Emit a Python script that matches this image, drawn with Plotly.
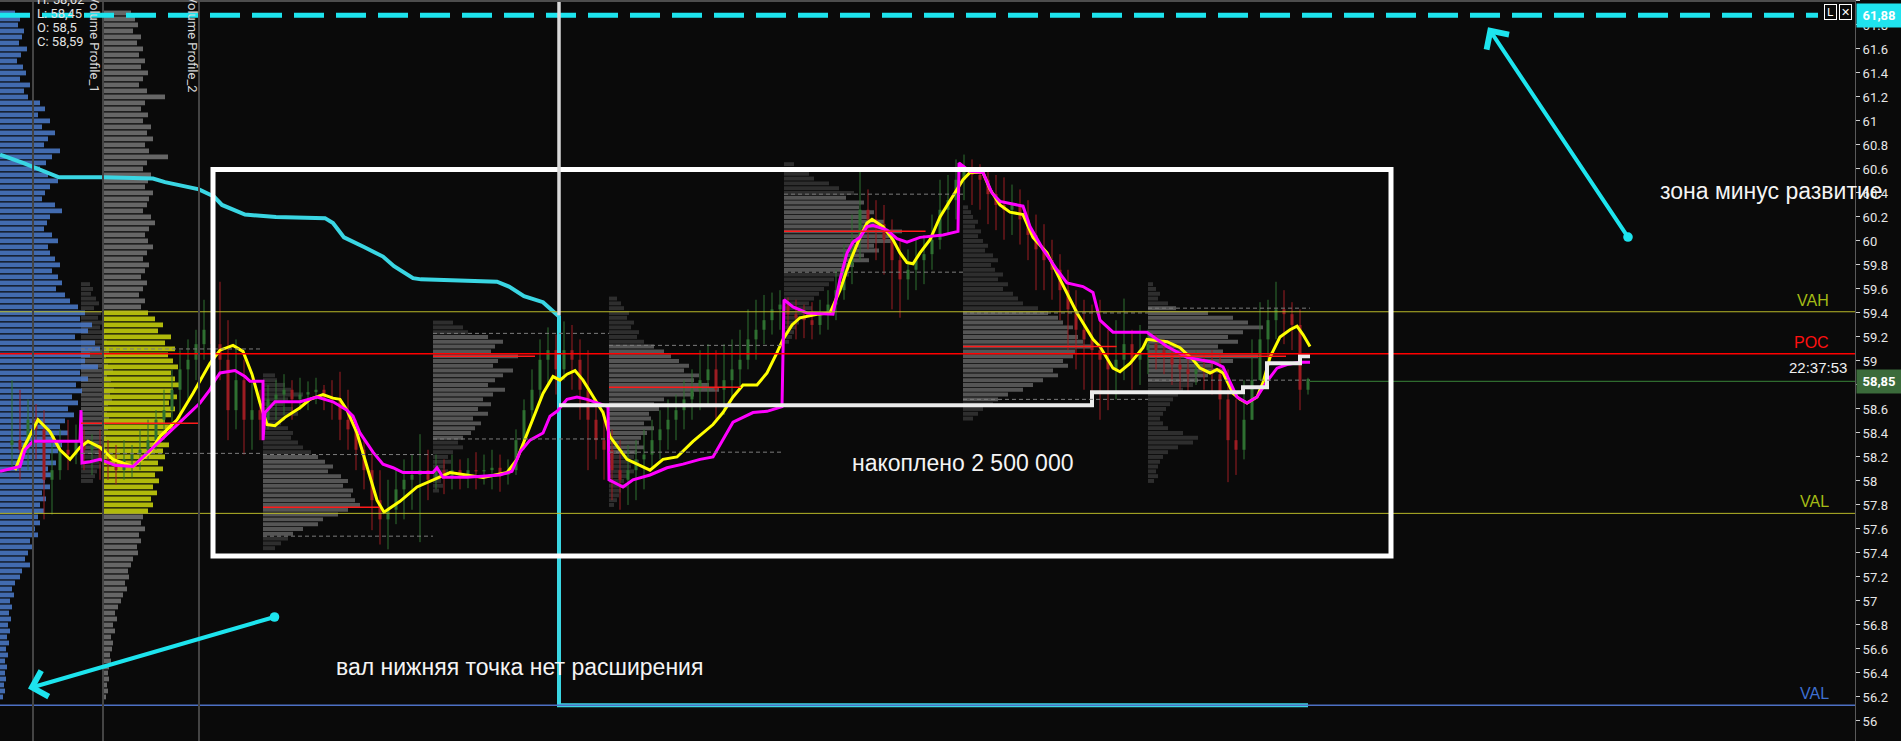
import plotly.graph_objects as go

# ---------------- axis extents ----------------
T_RIGHT = 1855
P_BOTTOM, P_TOP = 55.833, 62.008

# ---------------- candles (time, high, low, close) ----------------
candle_t = list(range(12, 1309, 8))
cand_high = [58.84, 58.76, 58.68, 58.64, 58.59, 58.34, 58.43, 58.51, 58.47, 58.43,
             58.39, 58.43, 58.34, 58.30, 58.34, 58.30, 58.43, 58.51, 58.59, 58.76,
             58.93, 59.09, 59.18, 59.26, 59.51, 59.34, 59.66, 59.34, 59.18, 59.01,
             58.84, 58.76, 58.80, 58.84, 58.89, 58.84, 58.86, 58.83, 58.86, 58.80,
             58.84, 58.91, 58.76, 58.51, 58.34, 58.26, 58.09, 58.01, 58.09, 58.18,
             58.22, 58.39, 58.26, 58.22, 58.18, 58.22, 58.18, 58.19, 58.24, 58.22,
             58.26, 58.22, 58.18, 58.43, 58.68, 58.93, 59.18, 59.28, 59.22, 59.33,
             59.30, 59.18, 59.09, 58.68, 58.59, 58.43, 58.34, 58.30, 58.34, 58.43,
             58.51, 58.59, 58.68, 58.72, 58.84, 58.93, 59.09, 59.14, 59.09, 59.14,
             59.18, 59.26, 59.43, 59.51, 59.55, 59.57, 59.59, 59.53, 59.51, 59.47,
             59.49, 59.51, 59.59, 59.76, 59.97, 60.22, 60.59, 60.43, 60.34, 60.30,
             60.18, 60.01, 59.93, 60.01, 60.05, 60.22, 60.51, 60.55, 60.68, 60.72,
             60.68, 60.64, 60.59, 60.55, 60.53, 60.47, 60.43, 60.34, 60.22, 60.14,
             60.01, 59.89, 59.76, 59.59, 59.51, 59.47, 59.51, 59.26, 59.34, 59.52,
             59.26, 59.30, 59.26, 59.22, 59.18, 59.14, 59.09, 59.05, 59.09, 59.05,
             59.09, 59.05, 58.93, 58.68, 58.84, 59.18, 59.49, 59.51, 59.66, 59.59,
             59.49, 59.43, 58.86]
cand_low = [58.09, 58.01, 58.09, 58.18, 57.68, 57.72, 58.01, 58.09, 58.14, 58.09,
            58.05, 58.01, 58.01, 57.97, 58.01, 58.03, 58.09, 58.18, 58.26, 58.34,
            58.43, 58.51, 58.68, 58.84, 59.01, 58.93, 58.84, 58.34, 58.43, 58.22,
            58.26, 58.34, 58.43, 58.51, 58.55, 58.51, 58.59, 58.59, 58.64, 58.59,
            58.51, 58.34, 58.26, 58.09, 57.93, 57.59, 57.47, 57.43, 57.64, 57.68,
            57.76, 57.49, 57.84, 57.93, 57.89, 57.93, 57.93, 57.94, 57.93, 57.97,
            57.93, 57.91, 57.97, 58.05, 58.26, 58.51, 58.68, 58.80, 58.72, 58.84,
            58.76, 58.51, 58.09, 58.18, 58.01, 57.84, 57.76, 57.80, 57.84, 57.93,
            58.09, 58.18, 58.26, 58.34, 58.43, 58.51, 58.59, 58.64, 58.51, 58.55,
            58.68, 58.76, 58.93, 59.01, 59.14, 59.22, 59.26, 59.22, 59.18, 59.19,
            59.18, 59.22, 59.26, 59.34, 59.51, 59.64, 59.84, 59.93, 59.84, 59.72,
            59.43, 59.36, 59.51, 59.59, 59.64, 59.76, 59.93, 60.05, 60.18, 60.34,
            60.30, 60.26, 60.14, 60.09, 60.01, 60.05, 59.97, 59.84, 59.59, 59.59,
            59.51, 59.34, 59.09, 58.93, 58.76, 58.68, 58.51, 58.59, 58.68, 58.84,
            58.76, 58.80, 58.89, 58.93, 58.89, 58.80, 58.76, 58.74, 58.80, 58.76,
            58.72, 58.51, 57.99, 58.05, 58.18, 58.51, 58.84, 59.01, 59.18, 59.14,
            59.09, 58.59, 58.72]
cand_close = [58.34, 58.26, 58.51, 58.43, 58.01, 58.09, 58.26, 58.22, 58.34, 58.26,
              58.30, 58.18, 58.14, 58.09, 58.18, 58.22, 58.26, 58.34, 58.51, 58.59,
              58.76, 58.93, 59.01, 59.14, 59.26, 59.14, 59.01, 58.59, 58.84, 58.51,
              58.59, 58.51, 58.68, 58.72, 58.76, 58.68, 58.72, 58.74, 58.76, 58.69,
              58.68, 58.51, 58.43, 58.26, 58.09, 57.84, 57.68, 57.76, 57.93, 58.01,
              58.05, 58.09, 58.01, 58.09, 58.03, 58.09, 58.03, 58.09, 58.08, 58.09,
              58.11, 58.05, 58.09, 58.34, 58.59, 58.76, 59.01, 59.09, 58.93, 59.09,
              59.01, 58.76, 58.51, 58.34, 58.26, 58.09, 58.01, 58.09, 58.18, 58.22,
              58.34, 58.43, 58.51, 58.59, 58.68, 58.76, 58.84, 58.93, 58.76, 58.84,
              58.93, 59.01, 59.18, 59.26, 59.34, 59.43, 59.47, 59.39, 59.36, 59.34,
              59.30, 59.39, 59.47, 59.59, 59.80, 60.01, 60.26, 60.18, 60.14, 60.01,
              59.84, 59.68, 59.76, 59.84, 59.89, 60.01, 60.26, 60.34, 60.51, 60.58,
              60.55, 60.51, 60.39, 60.30, 60.26, 60.30, 60.18, 60.05, 59.93, 59.84,
              59.76, 59.59, 59.43, 59.26, 59.18, 59.09, 59.01, 58.93, 59.01, 59.14,
              59.01, 59.09, 59.14, 59.09, 59.05, 58.97, 58.93, 58.89, 58.93, 58.91,
              58.89, 58.68, 58.34, 58.26, 58.51, 58.84, 59.18, 59.34, 59.43, 59.39,
              59.30, 58.76, 58.85]
cand_first_open = 58.30

# ---------------- indicator lines ----------------
yellow_t = [15, 25, 38, 50, 60, 70, 80, 88, 100, 113, 133, 150, 160, 177, 193, 210, 220, 233, 243, 252,
            260, 267, 275, 285, 300, 310, 323, 333, 340, 347, 357, 367, 377, 384, 400, 417, 433, 450, 483, 507,
            517, 530, 543, 553, 560, 567, 575, 583, 593, 603, 610, 627, 650, 663, 677, 693, 713, 723, 733, 743,
            757, 767, 777, 783, 792, 800, 817, 830, 840, 850, 860, 867, 872, 883, 893, 900, 907, 913, 920, 930,
            940, 953, 963, 970, 983, 990, 1000, 1010, 1023, 1033, 1047, 1060, 1077, 1093, 1100, 1113, 1120, 1130,
            1143, 1147, 1167, 1180, 1193, 1200, 1210, 1217, 1223, 1233, 1240, 1247, 1257, 1263, 1270, 1280, 1290,
            1297, 1303, 1310]
yellow_p = [58.09, 58.30, 58.51, 58.41, 58.26, 58.18, 58.28, 58.33, 58.28, 58.18, 58.12, 58.24, 58.37, 58.51,
            58.73, 58.98, 59.09, 59.13, 59.08, 58.89, 58.65, 58.47, 58.46, 58.53, 58.61, 58.68, 58.72, 58.69,
            58.68, 58.59, 58.40, 58.12, 57.84, 57.74, 57.83, 57.95, 58.01, 58.07, 58.03, 58.07, 58.18, 58.45,
            58.73, 58.87, 58.84, 58.89, 58.92, 58.84, 58.70, 58.57, 58.37, 58.18, 58.09, 58.18, 58.20, 58.33,
            58.47, 58.57, 58.70, 58.80, 58.80, 58.90, 59.07, 59.18, 59.30, 59.36, 59.39, 59.40, 59.59, 59.83,
            60.03, 60.15, 60.18, 60.12, 60.01, 59.90, 59.82, 59.81, 59.90, 60.01, 60.20, 60.37, 60.51, 60.57,
            60.57, 60.43, 60.30, 60.24, 60.22, 60.03, 59.90, 59.68, 59.40, 59.18, 59.12, 58.94, 58.91, 58.98,
            59.11, 59.18, 59.16, 59.11, 59.01, 58.94, 58.90, 58.93, 58.90, 58.73, 58.68, 58.65, 58.70, 58.82,
            59.03, 59.20, 59.26, 59.29, 59.22, 59.12]

magenta_t = [0, 20, 25, 33, 80, 81, 82, 90, 100, 115, 133, 160, 180, 200, 210, 215, 220, 235, 245, 250,
             263, 263, 265, 275, 300, 317, 333, 347, 353, 360, 373, 383, 393, 403, 433, 437, 443, 467, 500, 512,
             520, 530, 543, 550, 557, 567, 577, 587, 597, 608, 609, 623, 633, 650, 667, 683, 700, 713, 733, 753,
             767, 782, 784, 793, 807, 833, 840, 847, 853, 860, 867, 873, 887, 897, 907, 920, 943, 958, 959, 970,
             983, 992, 1000, 1017, 1023, 1030, 1043, 1057, 1067, 1083, 1093, 1100, 1113, 1147, 1167, 1187, 1213,
             1223, 1230, 1237, 1247, 1257, 1267, 1277, 1287, 1300, 1310]
magenta_p = [58.08, 58.12, 58.26, 58.33, 58.33, 58.59, 58.15, 58.16, 58.18, 58.13, 58.12, 58.33, 58.49, 58.65,
             58.76, 58.84, 58.90, 58.92, 58.87, 58.83, 58.83, 58.34, 58.57, 58.66, 58.66, 58.70, 58.66, 58.59,
             58.54, 58.40, 58.24, 58.14, 58.11, 58.07, 58.07, 58.11, 58.03, 58.03, 58.05, 58.08, 58.24, 58.34,
             58.40, 58.54, 58.58, 58.68, 58.70, 58.68, 58.65, 58.62, 58.01, 57.95, 58.01, 58.05, 58.11, 58.14,
             58.18, 58.20, 58.49, 58.57, 58.58, 58.62, 59.51, 59.45, 59.40, 59.39, 59.68, 59.90, 59.99, 60.03,
             60.12, 60.13, 60.09, 60.02, 59.99, 60.03, 60.05, 60.08, 60.65, 60.58, 60.57, 60.40, 60.33, 60.30,
             60.29, 60.12, 59.93, 59.76, 59.65, 59.62, 59.57, 59.34, 59.24, 59.24, 59.12, 59.03, 58.99, 58.95,
             58.82, 58.70, 58.65, 58.70, 58.83, 58.94, 58.97, 58.99, 58.99]

cyan_t = [0, 23, 59, 103, 153, 165, 199, 214, 222, 245, 276, 325, 333, 344, 364, 383, 394, 413, 421, 497,
          509, 524, 543, 555, 559, 559, 1308]
cyan_p = [60.72, 60.65, 60.53, 60.53, 60.52, 60.49, 60.43, 60.37, 60.30, 60.22, 60.20, 60.19, 60.15, 60.03,
          59.95, 59.87, 59.79, 59.69, 59.68, 59.66, 59.62, 59.54, 59.49, 59.40, 59.37, 56.13, 56.13]

white_t = [559, 1092, 1243, 1267, 1300, 1310]
white_p = [58.63, 58.74, 58.78, 58.98, 59.04, 59.04]

# ---------------- global levels ----------------
level_vah = 59.41
level_poc = 59.06
level_val = 57.73
level_val_blue = 56.13
last_price = 58.83
last_price_t = 1310
alert_price = 61.88

# ---------------- composite profiles (step 0.05 from 61.90) ----------------
big_top, big_step = 61.90, 0.05
blue_t0 = 0
blue_vol = [15, 20, 18, 24, 22, 19, 27, 21, 17, 23, 26, 20, 30, 24, 28,
            40, 45, 38, 50, 42, 55, 48, 44, 60, 52, 46, 40, 48, 58, 50, 45, 42, 55, 62, 50, 47, 44, 52, 58, 48,
            50, 55, 60, 52, 58, 62, 56, 65,
            70, 78, 85, 80, 92, 88, 75, 95, 100, 90, 85, 98, 80, 88, 76, 82, 72, 78, 68, 74,
            65, 60, 68, 55, 62, 58, 50, 56, 48, 52, 45, 50, 42, 46, 40, 44, 38,
            40, 35, 38, 30, 33, 28, 25, 30, 22, 20,
            15, 12, 14, 10, 12, 9, 11, 8, 10, 7, 9, 6, 8, 5, 7, 5, 6, 4, 5, 3]
vp1_t0 = 103
vp1_vol = [28, 32, 35, 30, 38, 34, 40, 36, 42, 38, 45, 40, 36, 44, 62,
           42, 38, 45, 40, 48, 44, 50, 42, 46, 65, 44, 40, 48, 45, 42, 50, 46, 44, 40, 48, 52, 46, 42, 45, 50,
           44, 40, 46, 42, 38, 44, 40, 36, 42, 38,
           45, 52, 60, 55, 68, 62, 72, 65, 70, 75, 68, 72, 78, 70, 74, 66, 72, 68, 62, 70, 64, 58, 66, 60, 62,
           55, 60, 52, 56, 50, 54, 48, 50, 45,
           40, 38, 42, 36, 38, 34, 35, 30,
           28, 25, 26, 22, 24, 20, 18,
           15, 12, 14, 10, 12, 8, 10, 9, 7, 8, 6, 5, 6, 4, 5, 3]

# ---------------- session profiles (step 0.04) ----------------
sess_step = 0.04
s1_t0, s1_t1, s1_top, s1_poc, s1_vah, s1_val = 81, 263, 59.64, 58.48, 59.10, 58.23
s1_vol = [9, 12, 10, 15, 18, 13, 20, 17, 22, 19, 24, 21, 26, 23, 28, 25, 30, 27, 32, 26,
          30, 28, 33, 29, 31, 27, 30, 26, 28, 24, 27, 23, 25, 21, 24, 20, 22, 18, 20, 16, 14, 12]
s2_t0, s2_t1, s2_top, s2_poc, s2_vah, s2_val = 263, 433, 58.88, 57.78, 58.22, 57.54
s2_vol = [12, 14, 22, 28, 40, 25, 20, 30, 35, 22, 18, 25, 30, 28, 35, 40, 48, 55, 62, 70,
          65, 78, 85, 80, 90, 88, 92, 97, 85, 75, 60, 55, 40, 30, 25, 18, 12]
s3_t0, s3_t1, s3_top, s3_poc, s3_vah, s3_val = 433, 609, 59.32, 59.04, 59.23, 58.35
s3_vol = [20, 30, 35, 55, 70, 62, 58, 85, 65, 60, 80, 70, 62, 55, 72, 60, 50, 58, 45, 55,
          40, 48, 42, 38, 30, 25, 30, 20, 15, 18, 12, 15, 10, 8, 10, 6]
s4_t0, s4_t1, s4_top, s4_poc, s4_vah, s4_val = 609, 784, 59.52, 58.78, 59.13, 58.24
s4_vol = [8, 12, 15, 20, 18, 25, 22, 30, 28, 35, 45, 55, 62, 70, 80, 75, 90, 85, 100, 110,
          85, 55, 45, 50, 40, 42, 35, 45, 38, 32, 30, 35, 28, 25, 30, 22, 25, 20, 15, 18, 12, 10, 8, 5]
s5_t0, s5_t1, s5_top, s5_poc, s5_vah, s5_val = 784, 963, 60.64, 60.08, 60.39, 59.74
s5_vol = [10, 18, 25, 30, 45, 55, 70, 62, 80, 75, 90, 85, 100, 95, 118, 105, 110, 90, 95, 80,
          85, 70, 60, 65, 50, 45, 40, 35, 30, 25, 28, 20, 22, 15, 12, 10, 8, 5]
s6_t0, s6_t1, s6_top, s6_poc, s6_vah, s6_val = 963, 1148, 60.28, 59.12, 59.40, 58.68
s6_vol = [5, 8, 10, 15, 12, 18, 15, 20, 25, 22, 30, 35, 28, 32, 40, 35, 45, 40, 50, 55,
          60, 75, 85, 95, 100, 110, 105, 115, 120, 128, 112, 110, 100, 105, 90, 95, 80, 70, 60, 45,
          35, 30, 20, 15, 10]
s7_t0, s7_t1, s7_top, s7_poc, s7_vah, s7_val = 1148, 1310, 59.64, 59.04, 59.44, 58.84
s7_vol = [5, 8, 12, 10, 20, 28, 60, 85, 100, 115, 95, 80, 90, 70, 75, 110, 85, 65, 75, 60,
          50, 45, 35, 30, 25, 22, 18, 15, 12, 15, 20, 35, 50, 45, 30, 20, 15, 12, 10, 8, 10, 6]

session_breaks = [33, 103, 199]

# ---------------- colours ----------------
BG = "#0a0a0a"
RED_C = "#9c1c22"
GREEN_C = "#2e7031"
CYAN = "#1de4ee"

fig = go.Figure()


def segs(ts, a, b):
    xs, ys = [], []
    for t, lo, hi in zip(ts, a, b):
        xs += [t, t, None]
        ys += [lo, hi, None]
    return xs, ys


# candles
cand_open = [cand_first_open] + cand_close[:-1]
n = min(len(candle_t), len(cand_high), len(cand_low), len(cand_close))
for is_up, col in ((True, GREEN_C), (False, RED_C)):
    idx = [i for i in range(n) if (cand_close[i] >= cand_open[i]) == is_up]
    tt = [candle_t[i] for i in idx]
    wx, wy = segs(tt, [cand_low[i] for i in idx], [cand_high[i] for i in idx])
    fig.add_trace(go.Scatter(x=wx, y=wy, mode="lines", line=dict(color=col, width=1),
                             hoverinfo="skip", showlegend=False))
    bx, by = segs(tt, [min(cand_open[i], cand_close[i]) for i in idx],
                  [max(cand_open[i], cand_close[i]) for i in idx])
    fig.add_trace(go.Scatter(x=bx, y=by, mode="lines", line=dict(color=col, width=3),
                             hoverinfo="skip", showlegend=False))

# indicator lines
fig.add_trace(go.Scatter(x=cyan_t, y=cyan_p, mode="lines", line=dict(color="#3ad6e3", width=4),
                         hoverinfo="skip", showlegend=False))
fig.add_trace(go.Scatter(x=yellow_t, y=yellow_p, mode="lines", line=dict(color="#ffff00", width=3),
                         hoverinfo="skip", showlegend=False))
fig.add_trace(go.Scatter(x=magenta_t, y=magenta_p, mode="lines", line=dict(color="#ff00ff", width=3),
                         hoverinfo="skip", showlegend=False))
fig.add_trace(go.Scatter(x=white_t, y=white_p, mode="lines",
                         line=dict(color="#ececec", width=4, shape="hv"),
                         hoverinfo="skip", showlegend=False))


def add_profile(t0, top, step, vols, va_hi, va_lo, c_in, c_out, opacity, thick):
    prices = [round(top - step * i, 4) for i in range(len(vols))]
    cols = [c_in if va_lo <= p <= va_hi else c_out for p in prices]
    fig.add_trace(go.Bar(orientation="h", y=prices, x=vols, base=t0, width=thick,
                         marker=dict(color=cols, line=dict(width=0)), opacity=opacity,
                         hoverinfo="skip", showlegend=False))


def add_session_lines(t0, t1, poc, vah, val, vols):
    fig.add_trace(go.Scatter(x=[t0, t1, None, t0, t1], y=[vah, vah, None, val, val], mode="lines",
                             line=dict(color="#7c7c7c", width=1, dash="4px,3px"),
                             hoverinfo="skip", showlegend=False))
    fig.add_trace(go.Scatter(x=[t0, t0 + 1.2 * max(vols)], y=[poc, poc], mode="lines",
                             line=dict(color="#ff1a1a", width=1.5), hoverinfo="skip", showlegend=False))


sessions = [
    (s2_t0, s2_t1, s2_top, s2_poc, s2_vah, s2_val, s2_vol),
    (s3_t0, s3_t1, s3_top, s3_poc, s3_vah, s3_val, s3_vol),
    (s4_t0, s4_t1, s4_top, s4_poc, s4_vah, s4_val, s4_vol),
    (s5_t0, s5_t1, s5_top, s5_poc, s5_vah, s5_val, s5_vol),
    (s6_t0, s6_t1, s6_top, s6_poc, s6_vah, s6_val, s6_vol),
    (s7_t0, s7_t1, s7_top, s7_poc, s7_vah, s7_val, s7_vol),
]
for t0, t1, top, poc, vah, val, vols in sessions:
    add_profile(t0, top, sess_step, vols, vah, val, "#727272", "#3c3c3c", 0.72, 0.033)
for t0, t1, top, poc, vah, val, vols in sessions:
    add_session_lines(t0, t1, poc, vah, val, vols)

# first session (mostly hidden behind composite profile)
add_session_lines(s1_t0, s1_t1, s1_poc, s1_vah, s1_val, [98])
add_profile(s1_t0, s1_top, sess_step, s1_vol, s1_vah, s1_val, "#505050", "#343434", 0.95, 0.033)

# composite profiles
add_profile(blue_t0, big_top, big_step, blue_vol, 99, 0, "#4c7bcb", "#4c7bcb", 0.86, 0.04)
add_profile(vp1_t0, big_top, big_step, vp1_vol, level_vah, level_val, "#b9c30c", "#6b6b6b", 0.95, 0.04)

# global levels
for price, col, w in ((level_vah, "#b8b828", 1), (level_val, "#b8b828", 1),
                      (level_poc, "#ff0000", 1.5), (level_val_blue, "#4d70c4", 1.5)):
    fig.add_trace(go.Scatter(x=[0, T_RIGHT], y=[price, price], mode="lines",
                             line=dict(color=col, width=w), hoverinfo="skip", showlegend=False))
fig.add_trace(go.Scatter(x=[last_price_t, T_RIGHT], y=[last_price, last_price], mode="lines",
                         line=dict(color="#2f6b2f", width=1.2), hoverinfo="skip", showlegend=False))

# session separators
sx, sy = segs(session_breaks, [P_BOTTOM] * 3, [P_TOP] * 3)
fig.add_trace(go.Scatter(x=sx, y=sy, mode="lines", line=dict(color="#444444", width=2),
                         hoverinfo="skip", showlegend=False))

# alert line
fig.add_trace(go.Scatter(x=[0, 1818], y=[alert_price, alert_price], mode="lines",
                         line=dict(color=CYAN, width=5, dash="30px,12px"),
                         hoverinfo="skip", showlegend=False))

# drawings
fig.add_shape(type="rect", xref="x", yref="y", x0=213, x1=1391, y0=57.375, y1=60.596,
              line=dict(color="white", width=5), layer="above")
fig.add_shape(type="line", xref="x", yref="y", x0=559, x1=559, y0=59.38, y1=P_TOP + 0.1,
              line=dict(color="#d9d9d9", width=3.5), layer="above")
fig.add_shape(type="line", xref="paper", yref="paper", x0=0, x1=1, y0=1, y1=1,
              line=dict(color="#4d4d4d", width=4), layer="above")

ticks = [round(55.8 + 0.2 * i, 1) for i in range(32)]
ticks = [v for v in ticks if P_BOTTOM <= v <= P_TOP]

fig.update_layout(
    width=1901, height=741,
    margin=dict(l=0, r=46, t=0, b=0, pad=0),
    paper_bgcolor=BG, plot_bgcolor=BG,
    barmode="overlay", showlegend=False,
    xaxis=dict(range=[0, T_RIGHT], visible=False, fixedrange=True),
    yaxis=dict(range=[P_BOTTOM, P_TOP], side="right", tickvals=ticks,
               ticktext=[f"{v:g}" for v in ticks], ticks="outside", ticklen=4,
               tickcolor="#d0d0d0", tickwidth=1,
               tickfont=dict(family="Roboto", size=13, color="#e6e6e6"),
               showgrid=False, zeroline=False, showline=True, linecolor="#5a5a5a",
               linewidth=1, fixedrange=True),
)

# ---------------- annotations ----------------
ohlc_labels = ["H: 58,62", "L: 58,45", "O: 58,5", "C: 58,59"]
for i, s in enumerate(ohlc_labels):
    fig.add_annotation(x=35, xref="x", y=1, yref="paper", yanchor="middle", xanchor="left",
                       yshift=1 - 14 * i, text=s, showarrow=False,
                       font=dict(family="Roboto", size=13, color="#e2e2e2"))
for tx, s in ((95, "Volume Profile_1"), (193, "Volume Profile_2")):
    fig.add_annotation(x=tx, xref="x", y=1, yref="paper", yanchor="middle", xanchor="center",
                       yshift=-44, text=s, textangle=90, showarrow=False,
                       font=dict(family="Roboto", size=13, color="#d8d8d8"))

for price, s, col in ((level_vah, "VAH", "#a4bb16"), (level_poc, "POC", "#ff1010"),
                      (level_val, "VAL", "#a4bb16"), (level_val_blue, "VAL", "#3e6fd0")):
    fig.add_annotation(x=1831, xref="x", y=price, yref="y", xanchor="right", yanchor="bottom",
                       yshift=1, text=s, showarrow=False,
                       font=dict(family="Liberation Sans", size=16, color=col))
fig.add_annotation(x=1849, xref="x", y=last_price, yref="y", xanchor="right", yanchor="bottom",
                   yshift=3, text="22:37:53", showarrow=False,
                   font=dict(family="Liberation Sans", size=15, color="#f0f0f0"))

for price, s, bg in ((alert_price, "61,88", "#1fe3ef"), (last_price, "58,85", "#3b6b3b")):
    fig.add_annotation(x=1, xref="paper", y=price, yref="y", xanchor="left", yanchor="middle",
                       xshift=1, text="<b>" + s + "</b>", showarrow=False, bgcolor=bg,
                       width=44, height=23, borderpad=0,
                       font=dict(family="Roboto", size=13, color="#ffffff"))

for tx, s in ((1830, "L"), (1845, "✕")):
    fig.add_annotation(x=tx, xref="x", y=1, yref="paper", yanchor="middle", xanchor="center",
                       yshift=-12, text=s, showarrow=False, bordercolor="#ffffff", borderwidth=1,
                       width=11, height=14, borderpad=0,
                       font=dict(family="DejaVu Sans", size=11, color="#ffffff"))

for tx, ty, s in ((1658, 60.42, "зона минус развитие"),
                  (334, 56.45, "вал нижняя точка нет расширения"),
                  (850, 58.15, "накоплено 2 500 000")):
    fig.add_annotation(x=tx, xref="x", y=ty, yref="y", xanchor="left", yanchor="middle",
                       text=s, showarrow=False,
                       font=dict(family="Liberation Sans", size=23, color="#f4f4f4"))

for (hx, hy, tx, ty) in ((1488, 61.78, 1629, 60.02), (28, 56.27, 276, 56.87)):
    fig.add_annotation(x=hx, y=hy, ax=tx, ay=ty, xref="x", yref="y", axref="x", ayref="y",
                       text="", showarrow=True, arrowhead=4, arrowsize=1.3, arrowwidth=4,
                       arrowcolor=CYAN, arrowside="end+start", startarrowhead=6,
                       startarrowsize=0.6, standoff=0, startstandoff=0)

fig.write_html("out.html",
               config={"displayModeBar": False},
               post_script="document.body.style.margin='0px';document.body.style.overflow='hidden';")
